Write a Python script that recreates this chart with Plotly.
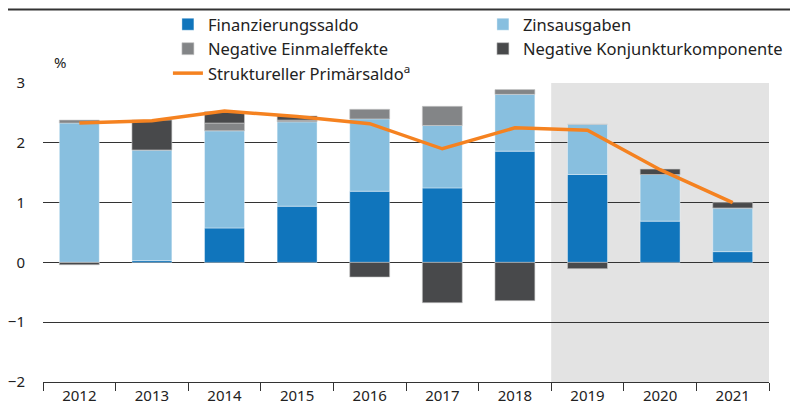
import plotly.graph_objects as go

years = ["2012", "2013", "2014", "2015", "2016", "2017", "2018", "2019", "2020", "2021"]
finanzierungssaldo = [0.0, 0.03, 0.575, 0.94, 1.19, 1.245, 1.86, 1.47, 0.69, 0.18]
zinsausgaben = [2.33, 1.85, 1.625, 1.41, 1.21, 1.045, 0.95, 0.84, 0.78, 0.73]
einmaleffekte = [0.05, 0.0, 0.13, 0.03, 0.16, 0.32, 0.08, 0.0, 0.0, 0.0]
konjunktur = [-0.04, 0.50, 0.19, 0.07, -0.245, -0.675, -0.64, -0.105, 0.09, 0.09]
primaersaldo = [2.33, 2.37, 2.53, 2.44, 2.32, 1.90, 2.25, 2.21, 1.55, 1.00]
y_ticks = [-2, -1, 0, 1, 2, 3]

FONT = "Noto Sans"

fig = go.Figure()
fig.add_bar(x=years, y=finanzierungssaldo, name="Finanzierungssaldo",
            marker=dict(color="#1075BC", line=dict(color="rgba(255,255,255,0.4)", width=1)))
fig.add_bar(x=years, y=zinsausgaben, name="Zinsausgaben",
            marker=dict(color="#88BFDF", line=dict(color="rgba(255,255,255,0.4)", width=1)))
fig.add_bar(x=years, y=einmaleffekte, name="Negative Einmaleffekte",
            marker=dict(color="#838587", line=dict(color="rgba(200,200,200,0.6)", width=1)))
fig.add_bar(x=years, y=konjunktur, name="Negative Konjunkturkomponente",
            marker=dict(color="#48494B", line=dict(color="rgba(200,200,200,0.6)", width=1)))
fig.add_scatter(x=years, y=primaersaldo, name="Struktureller Primärsaldo<sup>a</sup>",
                mode="lines", line=dict(color="#F58220", width=3.5))

# forecast shading
fig.add_shape(type="rect", xref="x", yref="y", x0=6.5, x1=9.5, y0=-2, y1=3,
              fillcolor="#E3E3E3", line=dict(width=0), layer="below")
# top frame line, inside the paper area
fig.add_shape(type="line", xref="paper", yref="paper", x0=0, x1=1,
              y0=0.9933, y1=0.9933, line=dict(color="#333333", width=2), layer="above")

fig.add_annotation(text="%", xref="paper", yref="paper", x=0.0661, y=0.8213,
                   xanchor="center", yanchor="bottom", showarrow=False,
                   font=dict(size=15, color="#222222", family=FONT))

fig.update_layout(
    width=790, height=410,
    margin=dict(l=8, r=0, t=7, b=28, autoexpand=False),
    barmode="relative",
    bargap=0.45,
    plot_bgcolor="white",
    paper_bgcolor="white",
    font=dict(family=FONT, size=15, color="#222222"),
    showlegend=True,
    legend=dict(orientation="h", x=0.2045, xanchor="left", y=1.0, yanchor="top",
                entrywidth=270, entrywidthmode="pixels",
                font=dict(size=16.5, family=FONT, color="#222222"),
                bgcolor="rgba(0,0,0,0)", traceorder="normal"),
    xaxis=dict(domain=[0.04476, 0.97315], showgrid=False, tickson="boundaries",
               ticks="outside", ticklen=8, tickcolor="#333333", showline=True,
               linecolor="#333333", linewidth=1, tickfont=dict(size=15),
               range=[-0.5, 9.5]),
    yaxis=dict(domain=[0, 0.797333], range=[-2, 3], tickvals=y_ticks, showgrid=True,
               gridcolor="#333333", gridwidth=1, zeroline=True, zerolinecolor="#333333",
               zerolinewidth=1, ticks="outside", ticklen=14, tickcolor="rgba(0,0,0,0)",
               tickfont=dict(size=15), showline=False),
)

fig.write_html("out.html", config={"displayModeBar": False},
               post_script="document.body.style.margin='0';")
